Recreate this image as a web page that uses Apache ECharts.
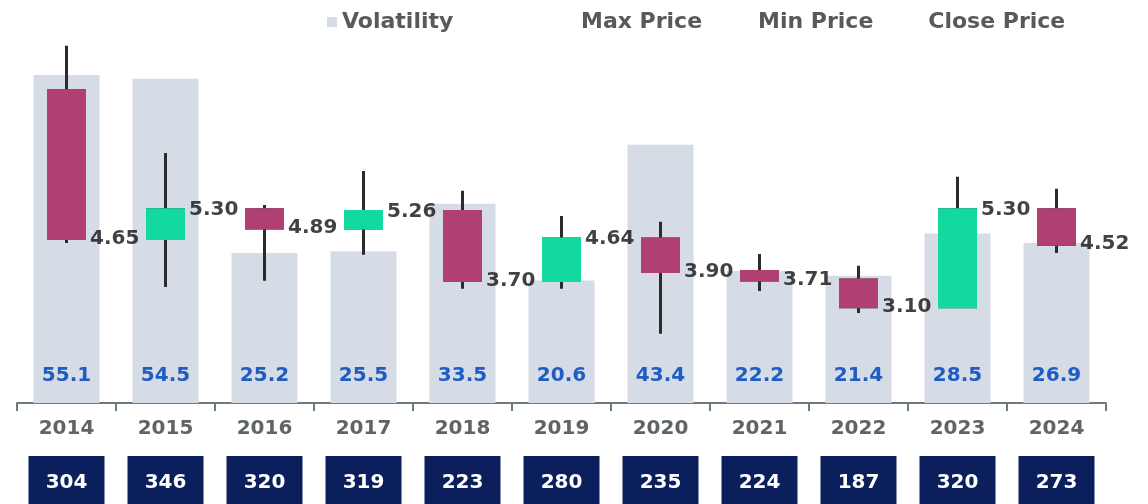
<!DOCTYPE html>
<html>
<head>
<meta charset="utf-8">
<script src="https://cdn.jsdelivr.net/npm/echarts@6/dist/echarts.min.js"></script>
<style>
    html, body {margin: 0; padding: 0; background: #fff;}
    #chart {width: 1148px; height: 504px;}
</style>
</head>
<body>
<div id="chart"></div>
<script>
    var years = ['2014', '2015', '2016', '2017', '2018', '2019', '2020', '2021', '2022', '2023', '2024'];
    var volatility = [55.1, 54.5, 25.2, 25.5, 33.5, 20.6, 43.4, 22.2, 21.4, 28.5, 26.9];
    var openPrice = [8.00, 4.65, 5.30, 4.89, 5.26, 3.70, 4.64, 3.90, 3.71, 3.10, 5.30];
    var closePrice = [4.65, 5.30, 4.89, 5.26, 3.70, 4.64, 3.90, 3.71, 3.10, 5.30, 4.52];
    var minPrice = [4.55, 3.55, 3.69, 4.28, 3.51, 3.51, 2.49, 3.46, 2.96, 3.10, 4.32];
    var maxPrice = [9.02, 6.59, 5.41, 6.18, 5.73, 5.16, 5.03, 4.30, 4.03, 6.05, 5.78];
    var volumes = [304, 346, 320, 319, 223, 280, 235, 224, 187, 320, 273];

    var FONT = '"DejaVu Sans", sans-serif';
    var UP = '#14d99e', DOWN = '#b03f72';

    // wick series (dark) + body series drawn on top so the body keeps its own color
    var wickData = years.map(function (y, i) {
        return [openPrice[i], closePrice[i], minPrice[i], maxPrice[i]];
    });
    var bodyData = years.map(function (y, i) {
        return [openPrice[i], closePrice[i],
            Math.min(openPrice[i], closePrice[i]), Math.max(openPrice[i], closePrice[i])];
    });
    var closeLabels = closePrice.map(function (v, i) { return [i, v]; });

    var chart = echarts.init(document.getElementById('chart'));
    chart.setOption({
        animation: false,
        grid: {left: 17, right: 42, top: 40, bottom: 101, outerBoundsMode: 'none', containLabel: false},
        legend: [{
            left: 322, top: 6,
            icon: 'rect', itemWidth: 10, itemHeight: 10,
            textStyle: {fontFamily: FONT, fontSize: 22, fontWeight: 'bold', color: '#595959'},
            data: ['Volatility']
        }, {
            left: 570, top: 6,
            itemWidth: 0, itemHeight: 0, itemGap: 50,
            textStyle: {fontFamily: FONT, fontSize: 22, fontWeight: 'bold', color: '#595959'},
            data: ['Max Price', 'Min Price', 'Close Price']
        }],
        xAxis: [{
            type: 'category', data: years,
            axisLine: {lineStyle: {color: '#6e7b7b', width: 2}},
            axisTick: {show: true, interval: 0, length: 8, lineStyle: {color: '#6e7b7b', width: 2}},
            axisLabel: {margin: 16, fontFamily: FONT, fontSize: 20, fontWeight: 'bold', color: '#5f6464'}
        }, {
            type: 'category', data: years, position: 'bottom',
            axisLine: {show: false}, axisTick: {show: false},
            axisLabel: {
                margin: 53, interval: 0, verticalAlign: 'top',
                formatter: function (v, i) { return String(volumes[i]); },
                backgroundColor: '#0b1f5c', color: '#fff',
                fontFamily: FONT, fontSize: 20, fontWeight: 'bold',
                width: 76, height: 54, lineHeight: 54, align: 'center'
            }
        }],
        yAxis: [
            {type: 'value', min: 0, max: 61, show: false, splitLine: {show: false}},
            {type: 'value', min: 0.92, max: 9.15, show: false, splitLine: {show: false}}
        ],
        series: [{
            name: 'Volatility', type: 'bar', data: volatility, barWidth: 66,
            itemStyle: {color: '#d6dce5'},
            label: {
                show: true, position: 'insideBottom', distance: 17,
                fontFamily: FONT, fontSize: 20, fontWeight: 'bold', color: '#1f5cc4',
                formatter: function (p) { return p.value.toFixed(1); }
            }
        }, {
            name: 'Max Price', type: 'candlestick', yAxisIndex: 1, data: wickData, barWidth: 37,
            itemStyle: {color: UP, color0: DOWN, borderColor: '#2b2b2b', borderColor0: '#2b2b2b', borderWidth: 3}
        }, {
            name: 'Min Price', type: 'candlestick', yAxisIndex: 1, data: bodyData, barWidth: 37,
            itemStyle: {color: UP, color0: DOWN, borderColor: UP, borderColor0: DOWN, borderWidth: 3}
        }, {
            name: 'Close Price', type: 'scatter', yAxisIndex: 1, data: closeLabels,
            symbolSize: 1, itemStyle: {color: 'rgba(0,0,0,0)'},
            label: {
                show: true, position: 'right', distance: 23,
                fontFamily: FONT, fontSize: 20, fontWeight: 'bold', color: '#111',
                formatter: function (p) { return p.value[1].toFixed(2); }
            }
        }]
    });
</script>
</body>
</html>
